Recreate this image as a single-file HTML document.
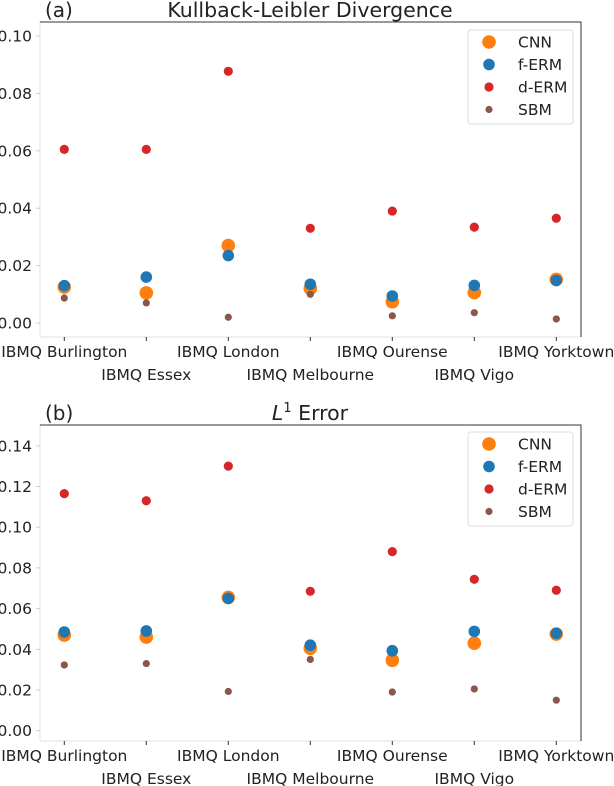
<!DOCTYPE html>
<html><head><meta charset="utf-8"><style>
body{margin:0;background:#fff;}
svg{display:block;font-family:"DejaVu Sans","Liberation Sans",sans-serif;}
</style></head><body>
<svg id="chart" width="614" height="786" viewBox="0 0 614 786"></svg>
<script>
const categories=["IBMQ Burlington","IBMQ Essex","IBMQ London","IBMQ Melbourne","IBMQ Ourense","IBMQ Vigo","IBMQ Yorktown"];
const seriesNames=["CNN","f-ERM","d-ERM","SBM"];
const klCNN=[0.0125,0.0105,0.027,0.012,0.0074,0.0106,0.0152];
const klFERM=[0.013,0.016,0.0235,0.0135,0.0094,0.0131,0.0148];
const klDERM=[0.0605,0.0605,0.0877,0.033,0.039,0.0334,0.0365];
const klSBM=[0.0087,0.007,0.002,0.010,0.0025,0.0036,0.0014];
const l1CNN=[0.047,0.046,0.0655,0.0405,0.0346,0.043,0.0475];
const l1FERM=[0.0485,0.049,0.065,0.042,0.0393,0.0488,0.0478];
const l1DERM=[0.1165,0.113,0.130,0.0685,0.088,0.0744,0.069];
const l1SBM=[0.0323,0.033,0.0193,0.035,0.019,0.0205,0.015];
const klTicks=["0.00","0.02","0.04","0.06","0.08","0.10"];
const l1Ticks=["0.00","0.02","0.04","0.06","0.08","0.10","0.12","0.14"];

const NS="http://www.w3.org/2000/svg";
const svg=document.getElementById('chart');
const colors=["#ff7f0e","#1f77b4","#d62728","#8c564b"];
const radii=[6.8,5.8,4.6,3.6];
function mk(tag,attrs,parent){const e=document.createElementNS(NS,tag);for(const k in attrs)e.setAttribute(k,attrs[k]);(parent||svg).appendChild(e);return e;}

function panel(opt){
  const g=mk('g',{});
  
  
  const L=40,R=581,T=opt.top,B=opt.bottom;
  const y=v=>opt.y0-v*opt.scale;
  const x=i=>64.3+i*82;
  const sl=mk('line',{x1:L,y1:T,x2:L,y2:B,stroke:'#e0e0e0','stroke-width':1},g);
  
  const sb=mk('line',{x1:L,y1:B,x2:R,y2:B,stroke:'#e0e0e0','stroke-width':1},g);
  
  const st=mk('path',{d:`M${L} ${T}H${R}V${B}`,fill:'none',stroke:'#333','stroke-width':1},g);
  
  opt.ticks.forEach(t=>{const v=parseFloat(t);const yy=y(v);
    mk('line',{x1:L-4,y1:yy,x2:L,y2:yy,stroke:'#ccc'},g);
    const tx=mk('text',{x:L-8,y:yy+5.5,'text-anchor':'end','font-size':15.5,fill:'#222'},g);
    tx.textContent=t;
    
  });
  categories.forEach((c,i)=>{
    mk('line',{x1:x(i),y1:B,x2:x(i),y2:B+4,stroke:'#333'},g);
    const tx=mk('text',{x:x(i),y:B+(i%2?43:20),'text-anchor':'middle','font-size':15.5,fill:'#222'},g);
    tx.textContent=c;
    
  });
  opt.series.forEach((arr,s)=>{
    arr.forEach((v,i)=>{
      const c=mk('circle',{cx:x(i),cy:y(v),r:radii[s],fill:colors[s]},g);
      
      
    });
  });
  const tl=mk('text',{x:45,y:T-5,'font-size':20,fill:'#222'},g);
  tl.textContent=opt.label;
  
  const tt=mk('text',{x:310,y:T-5,'text-anchor':'middle','font-size':20.5,fill:'#222'},g);
  tt.innerHTML=opt.title;
  
  const lg=mk('g',{},g);
  
  mk('rect',{x:468,y:opt.legTop,width:105,height:94,rx:3,fill:'#fff',stroke:'#ddd'},lg);
  seriesNames.forEach((n,s)=>{
      const yy=opt.legTop+12+s*22.5;
      mk('circle',{cx:489,cy:yy,r:radii[s],fill:colors[s]},lg);
      const t=mk('text',{x:518,y:yy+5.5,'font-size':15.5,fill:'#222'},lg);
      t.textContent=n;
      
  });
}
panel({name:'kl-divergence-panel',top:22,bottom:337,y0:323,scale:2870,ticks:klTicks,
  series:[klCNN,klFERM,klDERM,klSBM],label:'(a)',title:'Kullback-Leibler Divergence',legTop:30});
panel({name:'l1-error-panel',top:425,bottom:741,y0:730.7,scale:2035,ticks:l1Ticks,
  series:[l1CNN,l1FERM,l1DERM,l1SBM],label:'(b)',title:'<tspan font-style="italic">L</tspan><tspan font-size="13" dy="-8">1</tspan><tspan dy="8"> Error</tspan>',legTop:432});
</script>
</body></html>
